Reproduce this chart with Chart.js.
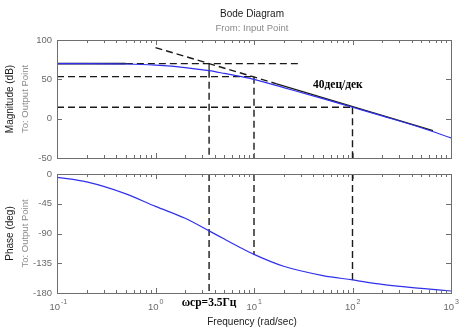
<!DOCTYPE html>
<html>
<head>
<meta charset="utf-8">
<script src="https://cdn.jsdelivr.net/npm/chart.js@4/dist/chart.umd.min.js"></script>
<style>
  html, body { margin: 0; padding: 0; background: #fff; }
  #wrap { position: relative; width: 469px; height: 332px; }
  #wrap canvas { position: absolute; left: 0; top: 0; }
</style>
</head>
<body>
<div id="wrap">
  <canvas id="mag" width="469" height="332"></canvas>
  <canvas id="phase" width="469" height="332"></canvas>
</div>
<script>
// frequency response
const freq     = [0.1, 0.2, 0.5, 1, 2, 3.5, 5, 7, 10, 20, 50, 100, 200, 500, 1000];
const magDb    = [70, 70, 69.5, 68, 65, 61, 57.5, 54, 50, 39.5, 25.5, 14.5, 3.5, -11.5, -24.5];
const phaseDeg = [-5, -12, -30, -49, -67, -86, -98.4, -110, -121.6, -139.6, -153.6, -160.2, -167, -173, -177];

// construction lines (frequency, value)
const lowAsymSolid  = [[0.1, 70], [0.5, 70]];
const lowAsymDash   = [[0.5, 70], [28, 70]];
const slopeDash     = [[1, 90.4], [17, 44.3]];
const slopeSolid    = [[17, 44.3], [656, -15.2]];
const markWcSolid   = [[3.5, 70], [3.5, 61]];
const markWcDash    = [[3.5, 61], [3.5, -50]];
const level53       = [[0.1, 53.4], [10, 53.4]];
const mark10        = [[10, 53.4], [10, -50]];
const level15       = [[0.1, 14.5], [100, 14.5]];
const mark100       = [[100, 14.5], [100, -50]];
const phMarkWc      = [[3.5, 0], [3.5, -180]];
const phMark10      = [[10, 0], [10, -121.6]];
const phMark100     = [[100, 0], [100, -160.2]];

const decades = [0.1, 1, 10, 100, 1000];
const decadeExp = ['-1', '0', '1', '2', '3'];
const slopeLabel = { x: 71, y: 42.8, text: '40дец/дек' };
const wcLabel = { x: 3.5, text: 'ωcp=3.5Гц' };

const BLUE = 'rgb(48,48,235)';
const INK = '#1a1a1a';
const DASH = [7, 4];
const sans = '"Liberation Sans", Arial, sans-serif';
const serif = '"Liberation Serif", "Times New Roman", serif';

function pts(arr){ return arr.map(p => ({ x: p[0], y: p[1] })); }
function line(data, color, dashed, width){
  return { data: pts(data), borderColor: color, borderWidth: width || 1.4, borderDash: dashed ? DASH : [],
           pointRadius: 0, fill: false, tension: 0 };
}

// frame + inward ticks, MATLAB style
const framePlugin = {
  id: 'frame',
  afterDraw(chart){
    const { ctx, chartArea: a, scales } = chart;
    ctx.save();
    ctx.strokeStyle = '#6e6e6e';
    ctx.lineWidth = 1;
    ctx.strokeRect(a.left + 0.5, a.top + 0.5, a.right - a.left, a.bottom - a.top);
    ctx.beginPath();
    decades.forEach(d => {
      for (let m = 1; m <= 9; m++) {
        const v = d * m;
        if (v > 1000) break;
        const px = Math.round(scales.x.getPixelForValue(v)) + 0.5;
        const len = m === 1 ? 5 : 3;
        ctx.moveTo(px, a.bottom); ctx.lineTo(px, a.bottom - len);
        ctx.moveTo(px, a.top); ctx.lineTo(px, a.top + len);
      }
    });
    scales.y.ticks.forEach(t => {
      const py = Math.round(scales.y.getPixelForValue(t.value)) + 0.5;
      ctx.moveTo(a.left, py); ctx.lineTo(a.left + 5, py);
      ctx.moveTo(a.right, py); ctx.lineTo(a.right - 5, py);
    });
    ctx.stroke();
    ctx.restore();
  }
};

function yTitle(ctx, cy, main){
  ctx.save();
  ctx.textAlign = 'center';
  ctx.textBaseline = 'middle';
  ctx.translate(10, cy); ctx.rotate(-Math.PI / 2);
  ctx.fillStyle = INK; ctx.font = '10px ' + sans;
  ctx.fillText(main, 0, 0);
  ctx.restore();
  ctx.save();
  ctx.textAlign = 'center';
  ctx.textBaseline = 'middle';
  ctx.translate(25, cy); ctx.rotate(-Math.PI / 2);
  ctx.fillStyle = '#8a8a8a'; ctx.font = '9.5px ' + sans;
  ctx.fillText('To: Output Point', 0, 0);
  ctx.restore();
}

const magText = {
  id: 'magText',
  afterDraw(chart){
    const { ctx, chartArea: a, scales } = chart;
    ctx.save();
    ctx.textAlign = 'center';
    ctx.textBaseline = 'middle';
    ctx.fillStyle = INK; ctx.font = '10px ' + sans;
    ctx.fillText('Bode Diagram', 252, 14);
    ctx.fillStyle = '#8a8a8a'; ctx.font = '9.5px ' + sans;
    ctx.fillText('From: Input Point', 252, 28);
    ctx.fillStyle = '#000'; ctx.font = 'bold 11.5px ' + serif;
    ctx.fillText(slopeLabel.text, scales.x.getPixelForValue(slopeLabel.x), scales.y.getPixelForValue(slopeLabel.y));
    ctx.restore();
    yTitle(ctx, (a.top + a.bottom) / 2, 'Magnitude (dB)');
  }
};

const phaseText = {
  id: 'phaseText',
  afterDraw(chart){
    const { ctx, chartArea: a, scales } = chart;
    ctx.save();
    ctx.textBaseline = 'alphabetic';
    decades.forEach((d, i) => {
      const px = scales.x.getPixelForValue(d);
      ctx.fillStyle = '#6a6a6a';
      ctx.font = '9.5px ' + sans;
      ctx.textAlign = 'right';
      ctx.fillText('10', px + 3, a.bottom + 17);
      ctx.font = '7px ' + sans;
      ctx.textAlign = 'left';
      ctx.fillText(decadeExp[i], px + 4, a.bottom + 11);
    });
    ctx.textAlign = 'center';
    ctx.textBaseline = 'middle';
    ctx.fillStyle = INK; ctx.font = '10px ' + sans;
    ctx.fillText('Frequency (rad/sec)', 252, 322);
    ctx.fillStyle = '#000'; ctx.font = 'bold 11.5px ' + serif;
    ctx.fillText(wcLabel.text, scales.x.getPixelForValue(wcLabel.x), a.bottom + 10);
    ctx.restore();
    yTitle(ctx, (a.top + a.bottom) / 2, 'Phase (deg)');
  }
};

function baseOptions(ymin, ymax, step, pad){
  return {
    responsive: false, animation: false,
    layout: { padding: pad },
    plugins: { legend: { display: false }, tooltip: { enabled: false } },
    scales: {
      x: { type: 'logarithmic', min: 0.1, max: 1000, display: false },
      y: {
        min: ymin, max: ymax,
        grid: { display: false, drawTicks: false },
        border: { display: false },
        ticks: { stepSize: step, padding: 5, color: '#6a6a6a', font: { size: 9.5, family: sans } },
        afterFit: s => { s.width = 57; }
      }
    }
  };
}

new Chart(document.getElementById('mag'), {
  type: 'line',
  data: {
    datasets: [
      { data: freq.map((f, i) => ({ x: f, y: magDb[i] })), borderColor: BLUE, borderWidth: 1.2,
        pointRadius: 0, fill: false, cubicInterpolationMode: 'monotone' },
      line(lowAsymSolid, INK, false, 1.6),
      line(lowAsymDash, INK, true),
      line(slopeDash, INK, true),
      line(slopeSolid, INK, false, 1.3),
      line(markWcSolid, INK, false, 1.2),
      line(markWcDash, INK, true),
      line(level53, INK, true),
      line(mark10, INK, true),
      line(level15, INK, true),
      line(mark100, INK, true)
    ]
  },
  options: baseOptions(-50, 100, 50, { top: 40, right: 18, bottom: 174, left: 0 }),
  plugins: [framePlugin, magText]
});

new Chart(document.getElementById('phase'), {
  type: 'line',
  data: {
    datasets: [
      { data: freq.map((f, i) => ({ x: f, y: phaseDeg[i] })), borderColor: BLUE, borderWidth: 1.2,
        pointRadius: 0, fill: false, cubicInterpolationMode: 'monotone' },
      line(phMarkWc, INK, true),
      line(phMark10, INK, true),
      line(phMark100, INK, true)
    ]
  },
  options: baseOptions(-180, 0, 45, { top: 174, right: 18, bottom: 39, left: 0 }),
  plugins: [framePlugin, phaseText]
});
</script>
</body>
</html>
